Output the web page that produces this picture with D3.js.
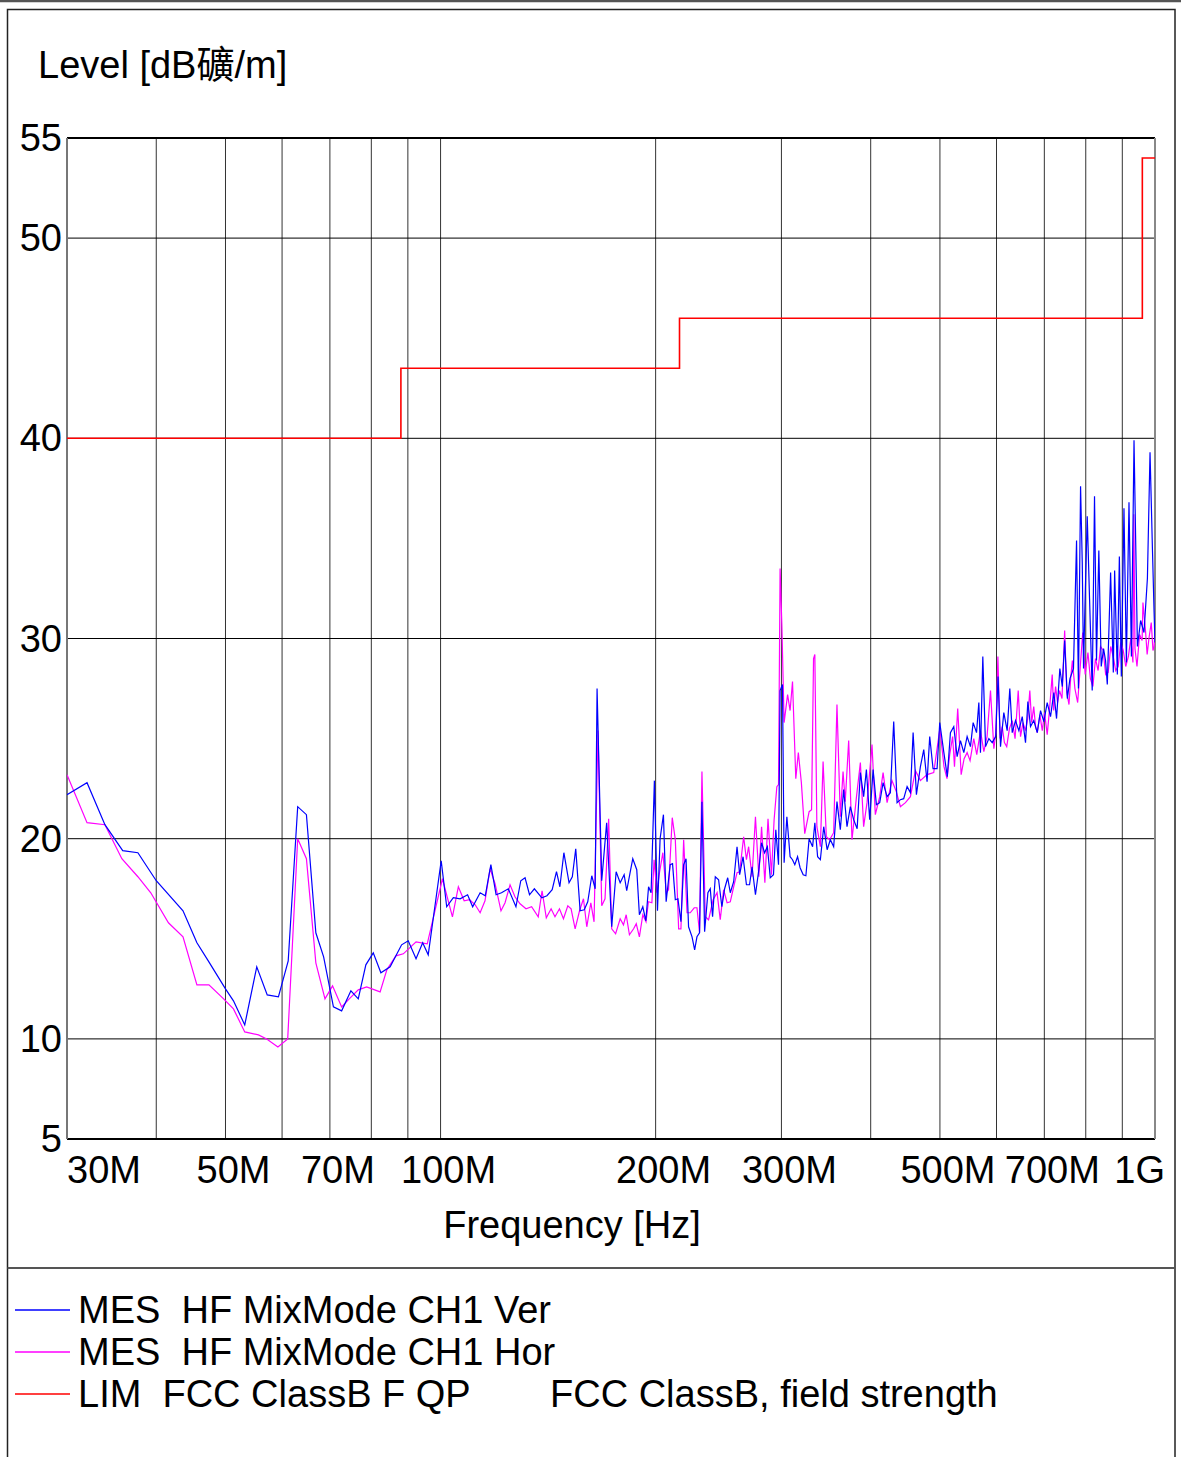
<!DOCTYPE html>
<html><head><meta charset="utf-8">
<script src="https://cdn.jsdelivr.net/npm/d3@7"></script>
<style>
body{margin:0;background:#fff}
text{font-family:"Liberation Sans",Arial,"Noto Sans CJK SC",sans-serif;fill:#000;white-space:pre}
</style>
</head><body>
<svg id="chart" width="1181" height="1457"></svg>
<script>
// Frequency axis (MHz) and level axis (dB礦/m)
const freqTicks = [30, 50, 70, 100, 200, 300, 500, 700, 1000];
const freqTickLabels = ["30M", "50M", "70M", "100M", "200M", "300M", "500M", "700M", "1G"];
const freqGrid = [40, 50, 60, 70, 80, 90, 100, 200, 300, 400, 500, 600, 700, 800, 900];
const levelTicks = [5, 10, 20, 30, 40, 50, 55];

// FCC Class B radiated limit (step starts, MHz / dB礦/m)
const limitFreq = [30, 88, 216, 960, 1000];
const limitLevel = [40, 43.5, 46, 54, 54];

// Vertical polarisation sweep [MHz, dB礦/m]
const verTrace = [
[30.0,22.2],[32.0,22.8],[33.9,20.7],[35.9,19.4],[37.7,19.3],[40.0,17.9],[43.6,16.4],[45.6,14.8],[47.3,13.9],[50.0,12.5],
[51.3,11.9],[53.2,10.7],[55.3,13.6],[57.2,12.2],[59.3,12.1],[61.2,13.9],[63.1,21.6],[64.9,21.2],[66.9,15.3],[68.6,14.1],
[70.8,11.6],[72.7,11.4],[74.9,12.4],[76.7,12.0],[78.6,13.7],[80.5,14.3],[82.5,13.3],[85.0,13.6],[88.2,14.7],[90.1,14.9],
[92.4,14.0],[94.4,14.8],[96.1,14.2],[100.2,18.9],[102.0,16.6],[104.2,17.05],[106.5,17.0],[109.1,17.2],[110.9,16.6],[113.6,17.3],
[115.5,17.15],[117.6,18.7],[119.6,17.2],[121.7,17.3],[124.4,17.5],[127.5,16.6],[129.5,17.9],[131.3,18.05],[133.2,17.2],[135.3,17.5],
[138.6,17.05],[140.9,17.15],[143.3,17.45],[145.3,18.35],[146.9,17.6],[148.8,19.3],[151.3,17.8],[152.9,18.1],[154.6,19.5],[156.8,16.4],
[158.9,16.45],[160.7,16.85],[162.8,18.15],[164.6,17.5],[165.6,27.5],[168.1,17.9],[170.8,20.8],[173.6,15.6],[176.1,18.35],[178.4,17.8],
[180.7,18.2],[182.2,17.4],[184.2,18.3],[185.8,19.0],[188.2,18.45],[189.8,16.2],[191.9,16.6],[193.8,15.9],[195.5,17.6],[197.1,17.3],
[199.2,22.9],[201.2,16.4],[202.9,20.0],[205.1,21.2],[206.9,16.85],[209.6,18.7],[211.2,18.75],[213.1,16.95],[214.9,17.0],[217.0,15.85],
[218.9,18.7],[220.6,19.0],[222.4,15.6],[224.9,15.1],[226.8,14.45],[228.5,15.1],[230.4,15.3],[232.2,21.85],[234.2,15.35],[236.7,17.3],
[238.5,17.5],[240.3,16.1],[242.4,18.1],[245.0,17.95],[247.6,16.6],[249.8,17.5],[252.3,18.05],[254.4,17.3],[257.2,17.85],[260.0,19.6],
[262.2,18.2],[265.1,19.1],[268.0,17.7],[270.7,17.7],[272.9,18.6],[275.9,17.2],[278.9,18.45],[281.4,19.8],[284.1,19.3],[286.7,19.6],
[289.4,18.05],[292.4,18.2],[294.6,20.45],[297.2,18.7],[298.7,27.4],[301.0,27.7],[302.6,18.8],[305.3,21.1],[308.5,19.1],[310.9,18.95],
[313.2,18.7],[316.0,19.1],[318.6,18.55],[321.8,18.2],[324.6,18.15],[328.0,20.0],[331.7,19.6],[334.1,20.8],[337.1,19.1],[340.1,18.95],
[343.8,20.6],[347.6,19.45],[351.2,19.95],[355.0,19.6],[358.8,21.85],[362.7,20.45],[366.6,22.45],[370.6,20.6],[374.6,21.6],[378.6,20.95],
[382.9,20.5],[386.9,23.3],[391.0,22.1],[394.5,23.45],[398.7,20.95],[403.1,23.45],[407.4,21.7],[411.8,21.8],[416.3,22.8],[421.7,22.1],
[426.2,22.3],[430.8,25.85],[435.5,21.8],[440.2,21.95],[444.9,22.0],[449.8,22.6],[454.6,22.3],[458.6,25.3],[463.5,22.2],[469.5,23.6],
[474.6,24.45],[479.7,22.85],[483.8,25.1],[489.0,23.5],[495.4,23.5],[499.7,25.8],[506.4,24.3],[512.0,23.1],[517.2,25.3],[522.8,25.6],
[528.5,24.1],[534.2,24.9],[540.0,24.3],[545.8,25.1],[551.7,24.6],[556.5,25.8],[562.6,25.3],[566.8,26.8],[569.8,24.3],[574.1,29.1],
[579.2,24.6],[585.4,25.0],[591.8,24.8],[598.4,25.1],[603.0,28.1],[607.8,24.6],[614.3,26.3],[621.0,25.4],[626.3,27.5],[631.2,25.3],
[637.9,25.9],[644.8,25.4],[651.9,26.1],[658.8,24.8],[663.8,26.85],[669.5,25.6],[676.6,25.9],[684.2,25.3],[691.5,26.4],[698.9,25.85],
[706.5,26.8],[714.1,26.1],[721.8,27.3],[728.1,26.0],[735.9,28.5],[741.7,27.6],[747.4,29.9],[753.9,27.0],[760.3,28.0],[768.9,28.5],
[776.6,34.9],[781.3,27.5],[786.7,37.6],[791.0,33.8],[794.3,28.5],[797.6,31.4],[803.8,36.1],[809.8,32.0],[816.8,27.4],[822.9,37.1],
[828.2,28.9],[834.4,34.4],[840.9,28.6],[847.2,29.5],[852.7,28.9],[857.5,27.7],[866.7,33.3],[874.3,28.3],[878.0,33.4],[885.7,28.2],
[891.5,34.1],[897.2,28.1],[904.8,36.5],[911.9,28.8],[919.6,36.8],[926.8,29.1],[934.6,39.9],[944.9,29.6],[954.8,30.9],[965.1,30.3],
[975.8,33.0],[984.1,39.3],[991.9,34.4],[997.1,31.3],[1000,29.8]
];

// Horizontal polarisation sweep [MHz, dB礦/m]
const horTrace = [
[30.0,23.2],[32.0,20.8],[33.9,20.7],[35.8,19.0],[37.7,18.1],[39.3,17.3],[41.6,15.8],[43.6,15.1],[45.6,12.7],[47.4,12.7],
[49.7,12.0],[51.3,11.5],[53.2,10.35],[55.6,10.2],[57.1,10.0],[59.2,9.6],[61.1,10.0],[63.1,20.0],[64.9,19.0],[66.9,13.8],
[68.9,12.0],[70.6,12.65],[72.7,11.6],[74.5,12.0],[76.7,12.45],[78.8,12.6],[82.3,12.35],[84.1,13.45],[86.6,14.15],[88.7,14.25],
[92.4,14.85],[95.8,14.75],[100.6,18.0],[103.9,16.1],[105.9,17.6],[107.9,16.9],[109.8,16.95],[111.8,16.7],[113.6,16.3],[115.4,16.9],
[117.3,18.5],[119.2,17.75],[121.5,16.4],[123.1,16.8],[125.1,17.7],[127.1,17.1],[129.2,16.75],[131.7,16.5],[134.1,16.6],[137.0,16.1],
[138.7,17.4],[140.6,16.05],[142.8,16.5],[144.6,16.1],[146.7,16.5],[148.6,16.0],[150.7,16.65],[152.3,16.5],[154.3,15.5],[156.5,16.4],
[158.5,17.0],[160.2,15.6],[162.3,16.8],[164.0,15.85],[166.1,25.4],[168.1,16.65],[169.9,17.0],[171.9,21.0],[173.6,15.5],[175.8,15.25],
[178.4,16.0],[180.3,15.7],[181.9,16.2],[183.8,15.2],[186.3,15.5],[187.9,15.75],[189.8,15.1],[191.9,16.2],[193.9,15.85],[195.4,16.85],
[197.6,16.8],[199.0,18.95],[200.8,17.3],[202.5,18.3],[204.7,19.3],[207.0,17.3],[208.5,17.45],[211.0,21.05],[213.1,19.95],[215.4,15.5],
[217.0,15.5],[218.9,19.95],[221.3,16.3],[223.6,16.3],[226.5,16.55],[228.5,16.55],[230.4,15.3],[232.2,23.35],[234.7,16.1],[237.2,15.95],
[240.7,16.95],[243.8,17.3],[246.3,15.95],[249.0,17.45],[251.8,16.8],[254.4,16.85],[257.2,17.6],[260.0,18.3],[262.2,18.35],[265.6,20.1],
[268.0,18.95],[269.9,19.6],[272.9,18.1],[275.9,21.1],[278.9,18.1],[281.4,20.6],[284.4,17.8],[287.3,21.0],[290.5,18.2],[293.0,20.95],
[295.6,22.6],[297.2,22.7],[298.7,33.5],[300.4,30.7],[302.6,25.8],[306.0,27.2],[308.5,26.4],[310.9,27.85],[314.2,23.0],[316.8,24.3],
[319.9,22.8],[323.4,20.25],[328.0,21.35],[330.6,21.45],[332.7,29.0],[334.1,29.2],[336.3,20.6],[340.1,19.6],[343.1,23.85],[346.7,20.1],
[350.4,19.95],[355.0,20.3],[358.8,26.7],[362.7,21.1],[365.9,23.35],[368.5,21.85],[372.6,24.9],[376.6,19.95],[382.1,22.1],[386.9,23.8],
[391.0,20.6],[395.3,21.8],[401.7,24.7],[406.0,21.2],[411.8,22.1],[416.3,23.3],[421.7,21.8],[428.4,22.9],[434.4,22.35],[440.2,21.6],
[447.4,21.8],[454.6,22.1],[462.0,23.4],[469.5,22.9],[479.7,23.2],[490.1,23.3],[499.9,25.5],[506.6,23.6],[511.5,23.0],[516.0,24.2],
[520.9,25.1],[524.0,23.6],[529.5,26.5],[535.4,23.2],[540.5,24.0],[545.8,24.3],[551.0,23.9],[557.6,25.0],[563.0,24.2],[569.8,25.4],
[576.0,24.35],[582.0,25.1],[588.5,27.4],[594.9,24.5],[598.8,25.3],[602.7,29.1],[607.0,25.0],[611.1,25.6],[615.5,24.8],[620.1,24.6],
[625.5,25.5],[631.2,25.9],[637.0,25.0],[643.5,27.4],[648.3,25.1],[653.5,25.8],[658.8,25.4],[663.5,26.0],[668.0,27.4],[672.0,25.8],
[676.5,26.6],[680.5,25.6],[684.2,25.3],[690.0,26.2],[695.4,25.4],[700.5,26.3],[706.5,25.2],[712.0,26.5],[718.0,28.2],[721.5,26.4],
[725.8,27.6],[730.5,26.8],[735.2,27.4],[741.0,27.0],[747.4,30.4],[752.5,27.3],[757.9,26.7],[762.0,28.0],[766.2,28.9],[772.5,27.5],
[779.4,26.8],[786.0,28.6],[792.2,30.3],[798.5,28.2],[805.6,29.3],[812.0,28.0],[818.6,27.6],[825.5,29.0],[832.5,28.4],[839.0,29.6],
[846.2,29.4],[853.0,28.2],[860.0,28.3],[867.0,29.6],[874.1,29.1],[881.0,28.4],[888.1,28.6],[895.5,29.8],[902.8,29.4],[910.0,28.6],
[917.7,29.1],[925.0,30.0],[931.4,28.8],[934.0,36.2],[937.5,29.5],[943.6,28.6],[951.5,30.2],[959.3,29.9],[961.9,31.8],[969.8,30.4],
[975.0,29.2],[980.6,30.0],[988.0,30.8],[993.5,29.4],[997.1,29.6],[1000,30.4]
];

const legendItems = [
  {label: "MES  HF MixMode CH1 Ver", color: "#0000ff", note: ""},
  {label: "MES  HF MixMode CH1 Hor", color: "#ff00ff", note: ""},
  {label: "LIM  FCC ClassB F QP", color: "#ff0000", note: "FCC ClassB, field strength"}
];

const W = 1181, H = 1457;
const plot = {left: 67, right: 1155, top: 138, bottom: 1139};
const fontSize = 38;

const svg = d3.select("#chart");

const x = d3.scaleLog().domain([30, 1000]).range([plot.left, plot.right]);
const y = d3.scaleLinear().domain([5, 55]).range([plot.bottom, plot.top]);

// outer frame
svg.append("line").attr("x1", 0).attr("x2", W).attr("y1", 1).attr("y2", 1)
  .attr("stroke", "#555").attr("stroke-width", 2.5);
svg.append("rect").attr("x", 7.5).attr("y", 9.5).attr("width", 1167.5).attr("height", H)
  .attr("fill", "none").attr("stroke", "#222").attr("stroke-width", 1.5);
svg.append("line").attr("x1", 7.5).attr("x2", 1175).attr("y1", 1268).attr("y2", 1268)
  .attr("stroke", "#555").attr("stroke-width", 2);

// title
svg.append("text").attr("x", 38).attr("y", 78).attr("font-size", fontSize)
  .text("Level [dB礦/m]");

// grid
const grid = svg.append("g");
grid.selectAll("line.v").data(freqGrid).join("line")
  .attr("x1", d => x(d)).attr("x2", d => x(d))
  .attr("y1", plot.top).attr("y2", plot.bottom)
  .attr("stroke", "#333").attr("stroke-width", 1);
grid.selectAll("line.h").data(levelTicks).join("line")
  .attr("x1", plot.left).attr("x2", plot.right)
  .attr("y1", d => y(d)).attr("y2", d => y(d))
  .attr("stroke", "#000")
  .attr("stroke-width", d => (d === 55 || d === 5) ? 2 : 1);
grid.append("line").attr("x1", plot.left).attr("x2", plot.left)
  .attr("y1", plot.top).attr("y2", plot.bottom).attr("stroke", "#777").attr("stroke-width", 2);
grid.append("line").attr("x1", plot.right).attr("x2", plot.right)
  .attr("y1", plot.top).attr("y2", plot.bottom).attr("stroke", "#888").attr("stroke-width", 2);

// level labels
svg.append("g").selectAll("text").data(levelTicks).join("text")
  .attr("x", plot.left - 5).attr("y", d => y(d) + 13)
  .attr("text-anchor", "end").attr("font-size", fontSize)
  .text(d => d);

// frequency labels
svg.append("g").selectAll("text").data(freqTicks).join("text")
  .attr("x", (d, i) => i === 0 ? x(d) : (i === freqTicks.length - 1 ? x(d) + 10 : x(d) + 8))
  .attr("y", plot.bottom + 44)
  .attr("text-anchor", (d, i) => i === 0 ? "start" : (i === freqTicks.length - 1 ? "end" : "middle"))
  .attr("font-size", fontSize)
  .text((d, i) => freqTickLabels[i]);

svg.append("text").attr("x", 572).attr("y", 1238).attr("text-anchor", "middle")
  .attr("font-size", fontSize).text("Frequency [Hz]");

// traces
svg.append("clipPath").attr("id", "plotClip").append("rect")
  .attr("x", plot.left).attr("y", plot.top - 2)
  .attr("width", plot.right - plot.left).attr("height", plot.bottom - plot.top + 2);

const traces = svg.append("g").attr("clip-path", "url(#plotClip)");
const line = d3.line().x(d => x(d[0])).y(d => y(d[1]));

traces.append("path").datum(horTrace).attr("d", line)
  .attr("fill", "none").attr("stroke", "#ff00ff").attr("stroke-width", 1.2);
traces.append("path").datum(verTrace).attr("d", line)
  .attr("fill", "none").attr("stroke", "#0000ff").attr("stroke-width", 1.2);

const limitPts = limitFreq.map((f, i) => [f, limitLevel[i]]);
traces.append("path").datum(limitPts)
  .attr("d", d3.line().x(d => x(d[0])).y(d => y(d[1])).curve(d3.curveStepAfter))
  .attr("fill", "none").attr("stroke", "#ff0000").attr("stroke-width", 1.6);

// legend
const leg = svg.append("g");
legendItems.forEach((item, i) => {
  const ly = 1310 + i * 42;
  leg.append("line").attr("x1", 15).attr("x2", 70).attr("y1", ly).attr("y2", ly)
    .attr("stroke", item.color).attr("stroke-width", 1.3);
  leg.append("text").attr("x", 78).attr("y", ly + 13).attr("font-size", fontSize).text(item.label);
  if (item.note) {
    leg.append("text").attr("x", 550).attr("y", ly + 13).attr("font-size", fontSize).text(item.note);
  }
});
</script>
</body></html>
